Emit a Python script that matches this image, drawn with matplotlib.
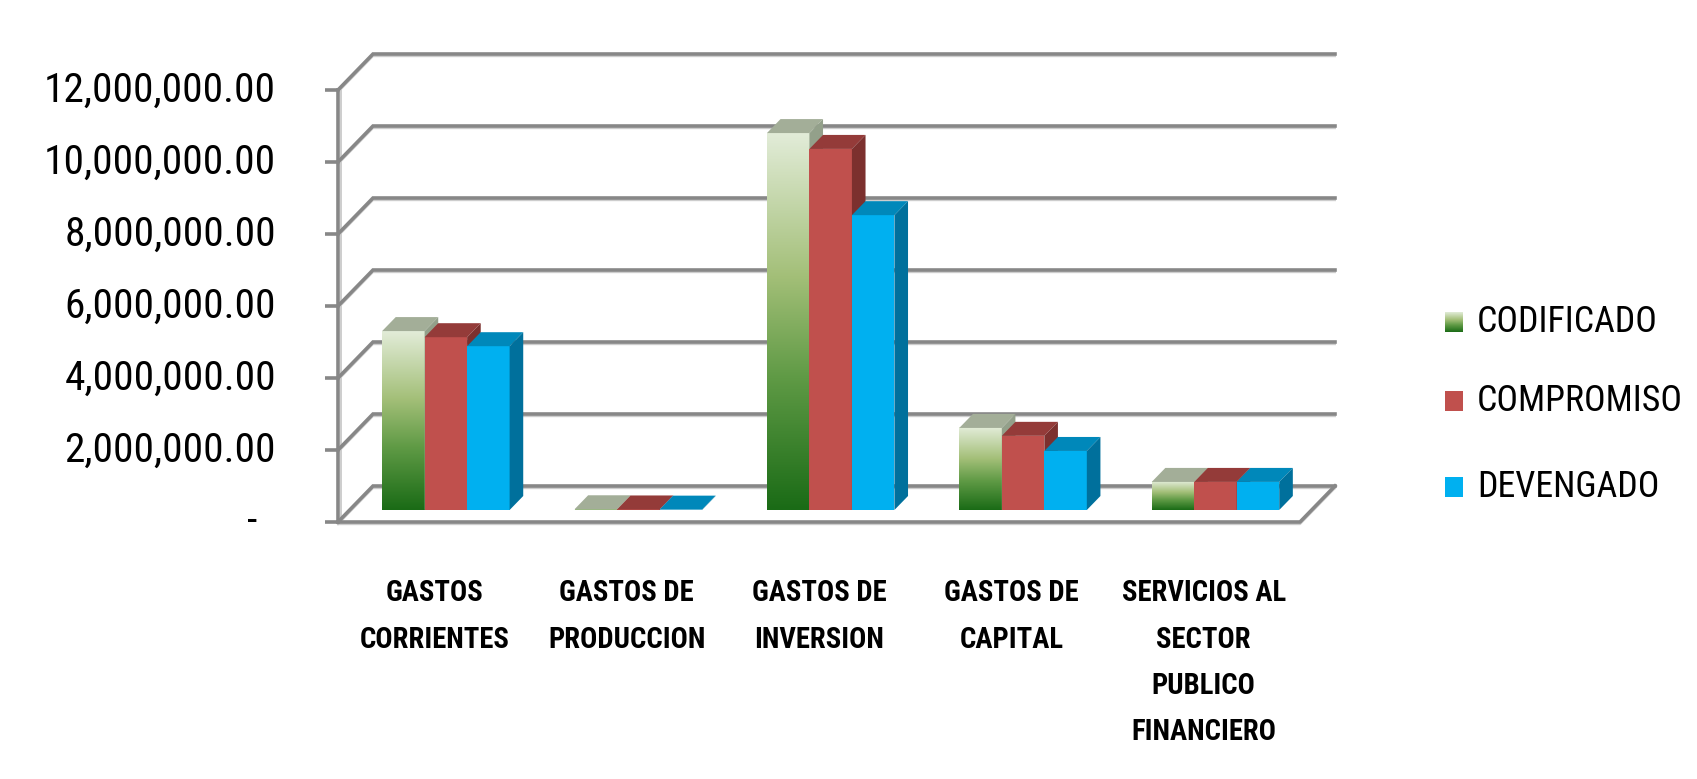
import numpy as np
import matplotlib
matplotlib.use('Agg')
import matplotlib.pyplot as plt
from matplotlib import font_manager as fm
from matplotlib.patches import Polygon, Rectangle
from matplotlib.colors import LinearSegmentedColormap

# data
categories = ['GASTOS\nCORRIENTES', 'GASTOS DE\nPRODUCCION', 'GASTOS DE\nINVERSION',
              'GASTOS DE\nCAPITAL', 'SERVICIOS AL\nSECTOR\nPUBLICO\nFINANCIERO']
series_names = ['CODIFICADO', 'COMPROMISO', 'DEVENGADO']
codificado = [4970000, 20000, 10470000, 2280000, 780000]
compromiso = [4800000, 15000, 10030000, 2060000, 780000]
devengado = [4550000, 10000, 8190000, 1640000, 780000]
y_ticks = [0, 2000000, 4000000, 6000000, 8000000, 10000000, 12000000]
y_tick_labels = ['-', '2,000,000.00', '4,000,000.00', '6,000,000.00',
                 '8,000,000.00', '10,000,000.00', '12,000,000.00']

series = [codificado, compromiso, devengado]

# colours: front, top, side
green_cmap = LinearSegmentedColormap.from_list(
    'cod', [(0.0, '#1a6b16'), (0.35, '#5f9a45'), (0.62, '#a3bf78'), (1.0, '#e2ecd8')])
faces = [
    (None, '#a3ae98', '#93a08a'),
    ('#c0504d', '#943b39', '#7c302e'),
    ('#00b0f0', '#0088ba', '#00709c'),
]
grid_c = '#878787'
shadow_c = '#cdcdcd'


def _weight(f):
    w = f.weight
    if isinstance(w, str):
        return 700 if 'bold' in w.lower() else 400
    return int(w)


def pick_narrow(bold):
    # look for a condensed sans face, the chart uses a narrow font
    prefs = ['Liberation Sans Narrow', 'Roboto Condensed', 'Noto Sans',
             'Open Sans', 'DejaVu Sans', 'Roboto', 'Lato']
    best = None
    for f in fm.fontManager.ttflist:
        st = str(f.stretch).lower()
        narrow = ('narrow' in f.name.lower() or 'condensed' in f.name.lower()
                  or st in ('condensed', 'semi-condensed', '75', '87.5'))
        if not narrow or 'mono' in f.name.lower() or 'extra' in st:
            continue
        if 'extracondensed' in f.fname.lower().replace('-', '').replace('_', ''):
            continue
        if f.style != 'normal':
            continue
        w = _weight(f)
        if bold and w < 600:
            continue
        if not bold and w != 400:
            continue
        rank = next((k for k, p in enumerate(prefs) if f.name.startswith(p)), 99)
        if best is None or rank < best[0]:
            best = (rank, f.fname)
    if best is None:
        return fm.FontProperties(family='DejaVu Sans',
                                 weight='bold' if bold else 'normal')
    return fm.FontProperties(fname=best[1])


font_reg = pick_narrow(False)
font_bold = pick_narrow(True)

# layout (pixels of the 1697x779 picture)
W, H = 1697, 779
X0 = 338.0          # front value axis
CAT = 192.4         # width of one category
Y0 = 522.0          # front floor line
PXU = 36.0 / 1e6    # pixels per unit of value


def px_x(p):
    return (p - X0) / CAT


def px_y(p):
    return (Y0 - p) / PXU


DX = 35.0 / CAT     # depth offset of the back wall
DY = 36.0 / PXU
n = len(categories)

fig = plt.figure(figsize=(W / 100, H / 100), dpi=100)
ax = fig.add_axes([0, 0, 1, 1])
ax.axis('off')
renderer = fig.canvas.get_renderer()


def fit_size(fp, sample, width_px):
    t = fig.text(0, 0, sample, fontproperties=fp, fontsize=20)
    w = t.get_window_extent(renderer=renderer).width
    t.remove()
    return 20 * width_px / w


tick_fs = fit_size(font_reg, '12,000,000.00', 232)
cat_fs = fit_size(font_bold, 'CORRIENTES', 150)
leg_fs = fit_size(font_reg, 'COMPROMISO', 206)

sh = 2.2 / PXU

# walls / gridlines
for v in y_ticks:
    xs = [0, DX, n + DX]
    ys = [v, v + DY, v + DY]
    ax.plot(xs, [y - sh for y in ys], color=shadow_c, lw=1.4, zorder=1)
    ax.plot(xs, ys, color=grid_c, lw=2.6, zorder=2, solid_joinstyle='miter')
    ax.plot([px_x(X0 - 13), 0], [v, v], color=grid_c, lw=2.6, zorder=2,
            solid_capstyle='butt')

# front axis and floor
ax.plot([2.5 / CAT, 2.5 / CAT], [0, y_ticks[-1]], color=shadow_c, lw=1.4, zorder=1)
ax.plot([0, 0], [0, y_ticks[-1]], color=grid_c, lw=2.6, zorder=2)
ax.plot([0, n, n + DX], [-sh, -sh, DY - sh], color=shadow_c, lw=1.4, zorder=1)
ax.plot([0, n, n + DX], [0, 0, DY], color=grid_c, lw=2.6, zorder=2)

# bars
bw = 42.5 / CAT
d0 = 12.0 / 36.0     # depth of the bar front
dd = 14.0 / 36.0     # bar depth
grad = np.linspace(0, 1, 256).reshape(-1, 1)
z = 5
for i in range(n):
    for s, vals in enumerate(series):
        v = vals[i]
        xl = i + 0.5 - 1.5 * bw + s * bw + d0 * DX
        yb = d0 * DY
        xr = xl + bw
        ox, oy = dd * DX, dd * DY
        front, top, side = faces[s]
        if front is None:
            ax.imshow(grad, cmap=green_cmap, origin='lower', aspect='auto',
                      extent=[xl, xr, yb, yb + v], zorder=z, interpolation='bilinear')
        else:
            ax.add_patch(Rectangle((xl, yb), bw, v, facecolor=front,
                                   edgecolor='none', zorder=z))
        ax.add_patch(Polygon([(xl, yb + v), (xr, yb + v), (xr + ox, yb + v + oy),
                              (xl + ox, yb + v + oy)], closed=True,
                             facecolor=top, edgecolor='none', zorder=z))
        ax.add_patch(Polygon([(xr, yb), (xr + ox, yb + oy), (xr + ox, yb + v + oy),
                              (xr, yb + v)], closed=True,
                             facecolor=side, edgecolor='none', zorder=z))
        z += 1

# value labels
for v, lab in zip(y_ticks, y_tick_labels):
    if lab == '-':
        ax.text(px_x(252), v, lab, ha='center', va='center', fontsize=tick_fs,
                fontproperties=font_reg, color='black')
    else:
        ax.text(px_x(276), v, lab, ha='right', va='center', fontsize=tick_fs,
                fontproperties=font_reg, color='black')

# category labels
for i, cat in enumerate(categories):
    for j, line in enumerate(cat.split('\n')):
        ax.text(i + 0.5, px_y(593 + j * 46.5), line, ha='center', va='center',
                fontproperties=font_bold, fontsize=cat_fs, color='black')

# legend
leg_y = [322, 401, 487]
for s, name in enumerate(series_names):
    x_a, x_b = px_x(1445), px_x(1463)
    y_a, y_b = px_y(leg_y[s] + 10), px_y(leg_y[s] - 10)
    if s == 0:
        ax.imshow(grad, cmap=green_cmap, origin='lower', aspect='auto',
                  extent=[x_a, x_b, y_a, y_b], zorder=20, interpolation='bilinear')
    else:
        ax.add_patch(Rectangle((x_a, y_a), x_b - x_a, y_b - y_a,
                               facecolor=faces[s][0], edgecolor='none', zorder=20))
    ax.text(px_x(1477), px_y(leg_y[s]), name, ha='left', va='center',
            fontproperties=font_reg, fontsize=leg_fs, color='black')

ax.set_xlim(px_x(0), px_x(W))
ax.set_ylim(px_y(H), px_y(0))

fig.savefig('out.png', dpi=100, facecolor='white')
